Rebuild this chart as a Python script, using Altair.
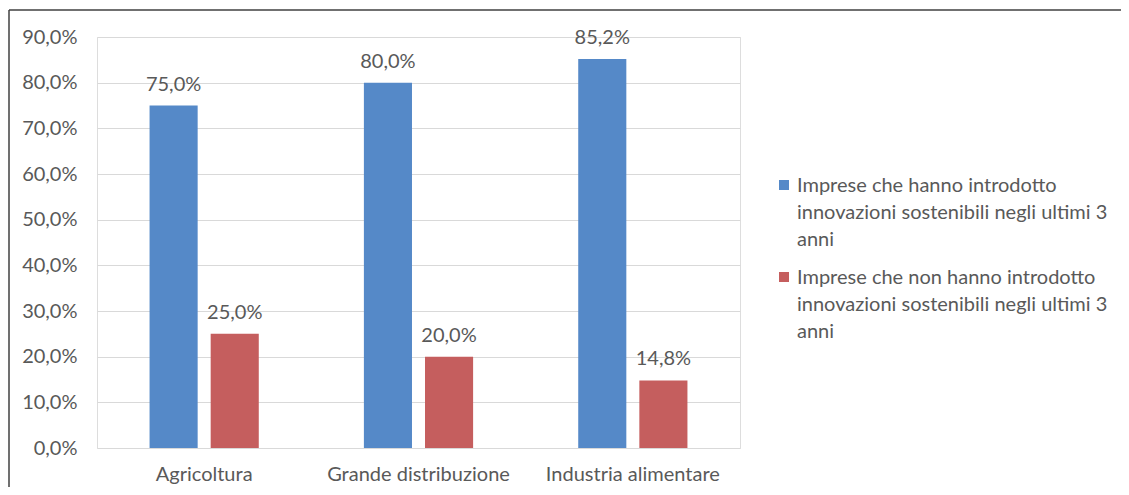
import altair as alt
import pandas as pd

categories = ["Agricoltura", "Grande distribuzione", "Industria alimentare"]
series = [
    "Imprese che hanno introdotto innovazioni sostenibili negli ultimi 3 anni",
    "Imprese che non hanno introdotto innovazioni sostenibili negli ultimi 3 anni",
]
# legend text as wrapped in the reference
series_lines = [
    ["Imprese che hanno introdotto", "innovazioni sostenibili negli ultimi 3", "anni"],
    ["Imprese che non hanno introdotto", "innovazioni sostenibili negli ultimi 3", "anni"],
]
values_yes = [0.75, 0.80, 0.852]
values_no = [0.25, 0.20, 0.148]
colors = ["#5589C8", "#C55E5E"]

rows = []
for c, a, b in zip(categories, values_yes, values_no):
    rows.append({"cat": c, "serie": series[0], "val": a})
    rows.append({"cat": c, "serie": series[1], "val": b})
df = pd.DataFrame(rows)

FONT = "Lato"
GREY = "#595959"
FS = 20

x = alt.X("cat:N", sort=categories, title=None,
          scale=alt.Scale(paddingInner=0, paddingOuter=0),
          axis=alt.Axis(labelAngle=0, labelFontSize=FS, labelColor=GREY, labelFont=FONT,
                        ticks=False, domain=False, labelPadding=16, labelLimit=400))
y = alt.Y("val:Q", title=None,
          scale=alt.Scale(domain=[0, 0.9], nice=False),
          axis=alt.Axis(values=[i / 10 for i in range(10)], labelFontSize=FS, labelColor=GREY,
                        labelFont=FONT, ticks=False, domain=False, labelPadding=20,
                        gridColor="#d9d9d9", gridWidth=1,
                        labelExpr="replace(format(datum.value, '.1%'), '.', ',')"))
xoff = alt.XOffset("serie:N", sort=series,
                   scale=alt.Scale(paddingInner=0.213, paddingOuter=0.86))
color = alt.Color("serie:N", sort=series,
                  scale=alt.Scale(domain=series, range=colors), legend=None)

bars = alt.Chart(df).mark_bar().encode(x=x, y=y, xOffset=xoff, color=color)
labels = alt.Chart(df).mark_text(baseline="alphabetic", dy=-15, fontSize=FS, font=FONT,
                                 color=GREY).encode(
    x=x, y=y, xOffset=xoff,
    text=alt.Text("lbl:N"),
).transform_calculate(lbl="replace(format(datum.val, '.1%'), '.', ',')")

one = pd.DataFrame({"k": [0]})
legend_layers = []
for i, (lines, col) in enumerate(zip(series_lines, colors)):
    legend_layers.append(
        alt.Chart(one).mark_square(size=100, color=col, opacity=1).encode(
            x=alt.value(687), y=alt.value(148 + 92 * i)))
    legend_layers.append(
        alt.Chart(one).mark_text(align="left", baseline="alphabetic", fontSize=FS, font=FONT,
                                 color=GREY, lineHeight=27).encode(
            x=alt.value(700), y=alt.value(155 + 92 * i), text=alt.value(lines)))

top_border = alt.Chart(one).mark_rule(color="#404040", strokeWidth=1.5).encode(
    x=alt.value(-88), x2=alt.value(1040), y=alt.value(-27))
left_border = alt.Chart(one).mark_rule(color="#404040", strokeWidth=1.5).encode(
    x=alt.value(-88), y=alt.value(-27), y2=alt.value(460))

chart = alt.layer(bars, labels, *legend_layers, top_border, left_border).properties(
    width=643, height=411,
    autosize=alt.AutoSizeParams(type="none"),
    padding={"left": 89, "top": 29, "right": 381, "bottom": 39},
).configure_view(stroke=None).configure(background="white")

chart.save("out.html", embed_options={"renderer": "svg", "actions": False})
